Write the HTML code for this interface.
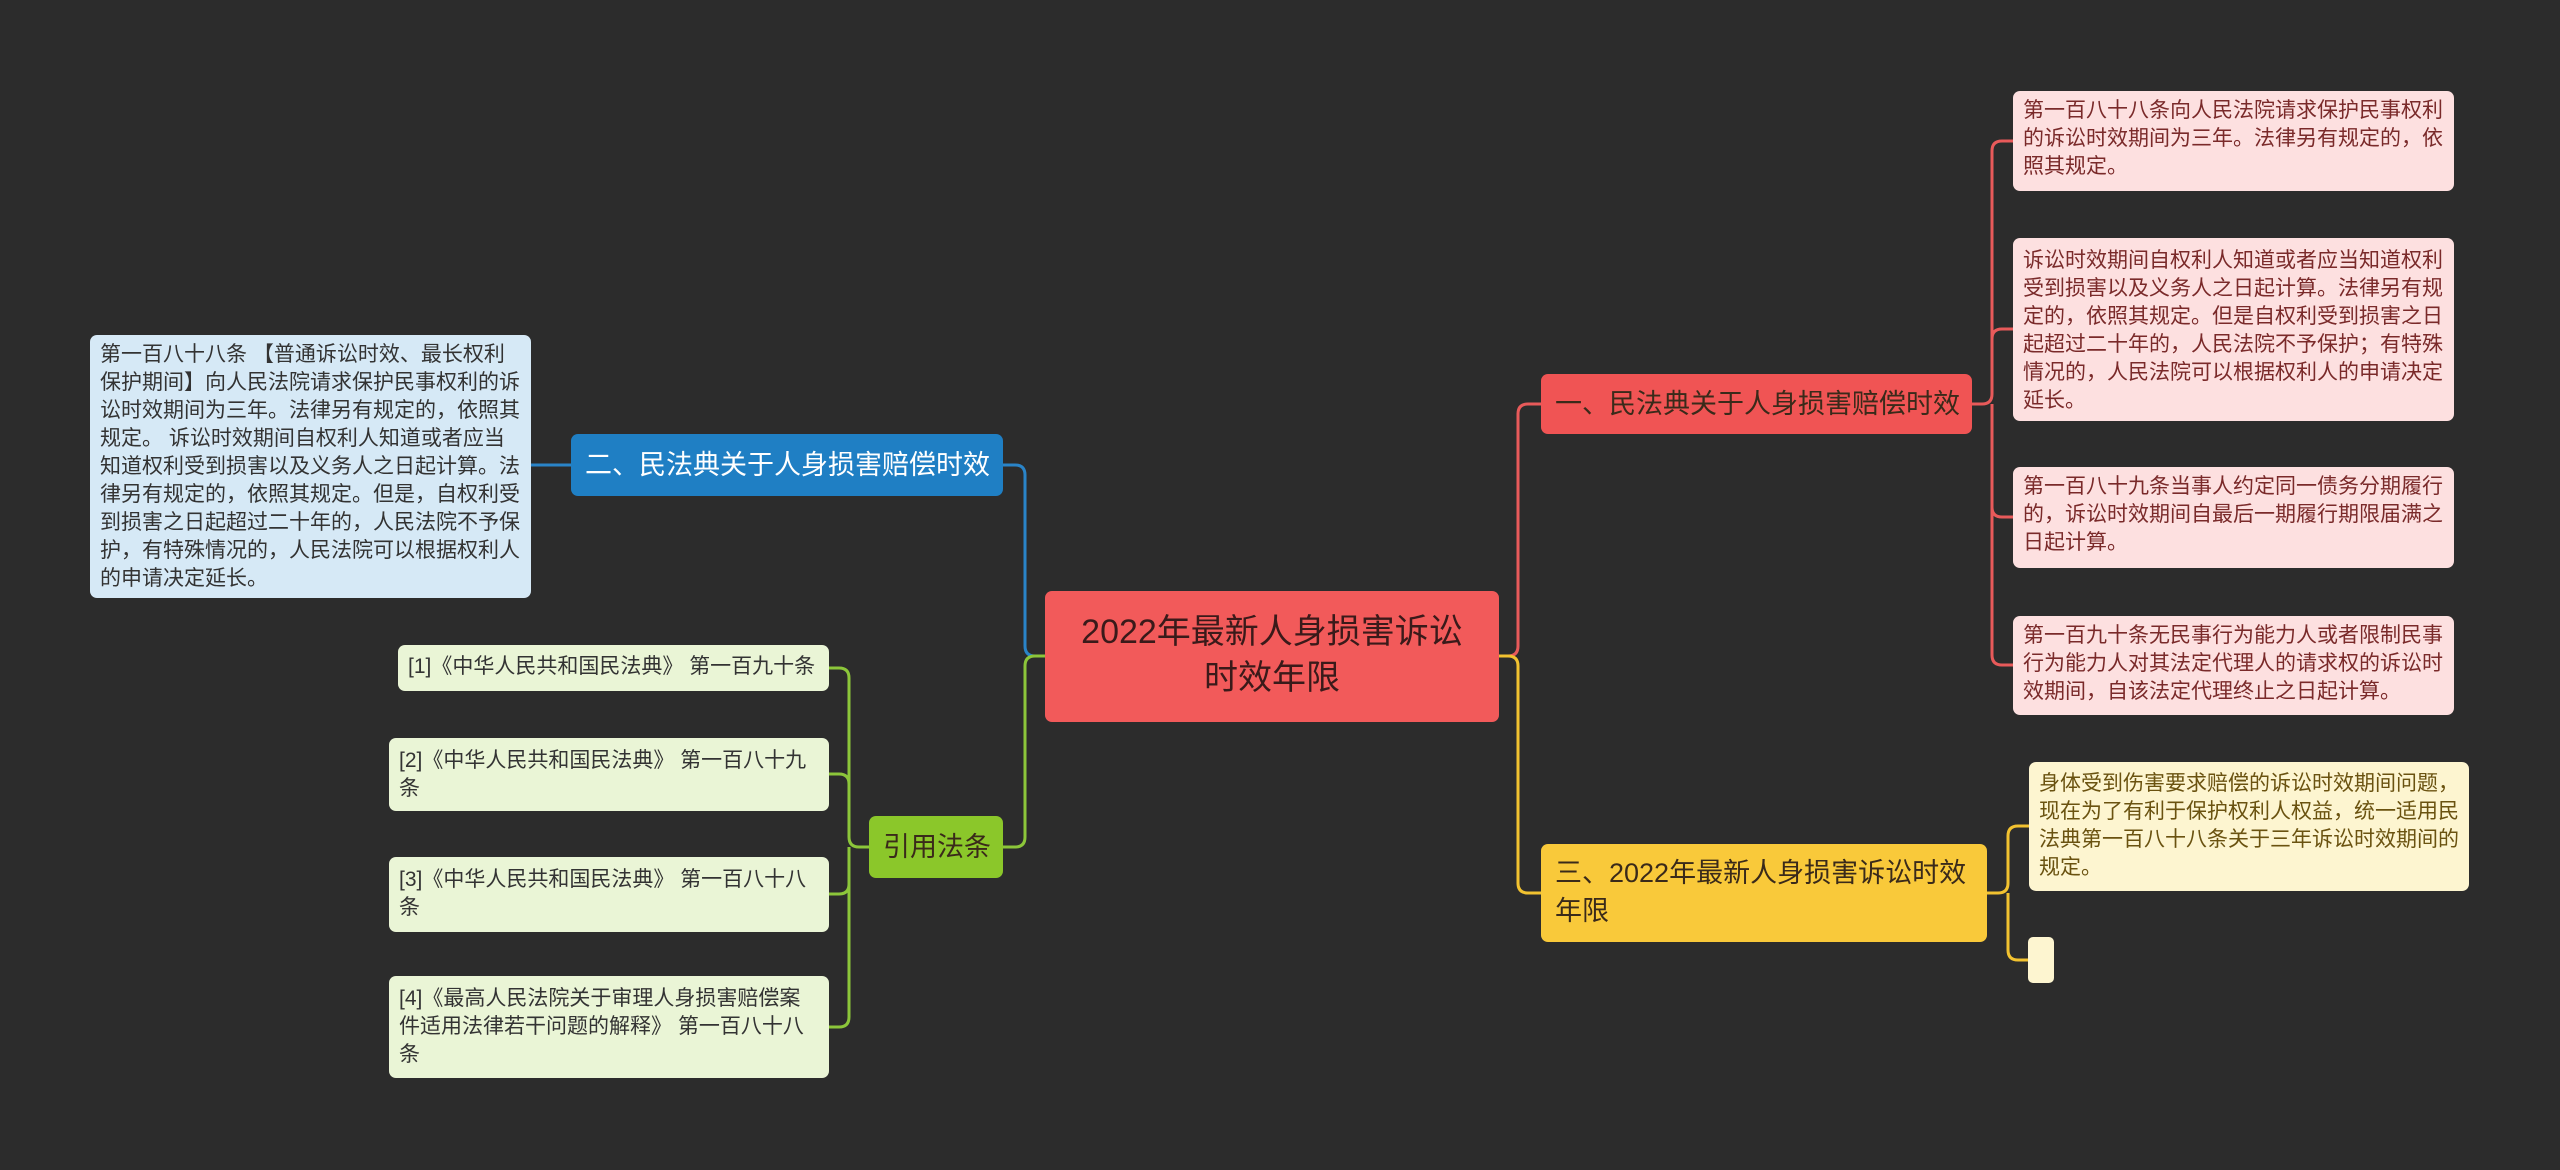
<!DOCTYPE html>
<html><head><meta charset="utf-8"><style>
body{margin:0;width:2560px;height:1170px;background:#2c2c2c;overflow:hidden;position:relative;font-family:"Liberation Sans","Noto Sans CJK SC",sans-serif}
.n{position:absolute;box-sizing:border-box;border-radius:7px}
.leaf{font-size:21px;line-height:28px;padding:6px 10px;color:#333}
.br{font-size:27px;line-height:38px;padding:10px 14px;color:#3a2a1a;white-space:nowrap}
svg{position:absolute;left:0;top:0}
</style></head><body>
<svg width="2560" height="1170" fill="none" stroke-width="3">
<g stroke="#e85a5a">
<path d="M1499 656 H1508 Q1518 656 1518 646 V414 Q1518 404 1528 404 H1541"/>
<path d="M1972 404 H1982 Q1992 404 1992 394 V151 Q1992 141 2002 141 H2013"/>
<path d="M1992 394 V339 Q1992 329 2002 329 H2013"/>
<path d="M1992 404 V507 Q1992 517 2002 517 H2013"/>
<path d="M1992 404 V655 Q1992 665 2002 665 H2013"/>
</g>
<g stroke="#f2c230">
<path d="M1499 656 H1508 Q1518 656 1518 666 V883 Q1518 893 1528 893 H1541"/>
<path d="M1987 893 H1998 Q2008 893 2008 883 V836 Q2008 826 2018 826 H2029"/>
<path d="M2008 893 V950 Q2008 960 2018 960 H2028"/>
</g>
<g stroke="#2a84c8">
<path d="M1045 656 H1035 Q1025 656 1025 646 V475 Q1025 465 1015 465 H1003"/>
<path d="M571 465 H531"/>
</g>
<g stroke="#8cc63a">
<path d="M1045 656 H1035 Q1025 656 1025 666 V837 Q1025 847 1015 847 H1003"/>
<path d="M869 847 H859 Q849 847 849 837 V678 Q849 668 839 668 H829"/>
<path d="M849 837 V784 Q849 774 839 774 H829"/>
<path d="M849 847 V884 Q849 894 839 894 H829"/>
<path d="M849 847 V1017 Q849 1027 839 1027 H829"/>
</g>
</svg>

<div class="n" style="left:1045px;top:591px;width:454px;height:131px;background:#f25a5a;color:#3a1a1a;font-size:34px;line-height:46px;text-align:center;padding-top:18px">2022年最新人身损害诉讼<br>时效年限</div>

<div class="n br" style="left:1541px;top:374px;width:431px;height:60px;background:#f05454;padding-top:11px">一、民法典关于人身损害赔偿时效</div>
<div class="n br" style="left:1541px;top:844px;width:446px;height:98px;background:#f9c93a;white-space:normal;padding-top:10px">三、2022年最新人身损害诉讼时效年限</div>
<div class="n br" style="left:571px;top:434px;width:432px;height:62px;background:#1f7fc4;color:#fff;padding-top:12px">二、民法典关于人身损害赔偿时效</div>
<div class="n br" style="left:869px;top:816px;width:134px;height:62px;background:#8bc72a;padding-top:12px">引用法条</div>

<div class="n leaf" style="left:90px;top:335px;width:441px;height:263px;background:#d6e9f6">第一百八十八条 【普通诉讼时效、最长权利保护期间】向人民法院请求保护民事权利的诉讼时效期间为三年。法律另有规定的，依照其规定。 诉讼时效期间自权利人知道或者应当知道权利受到损害以及义务人之日起计算。法律另有规定的，依照其规定。但是，自权利受到损害之日起超过二十年的，人民法院不予保护，有特殊情况的，人民法院可以根据权利人的申请决定延长。</div>

<div class="n leaf" style="left:398px;top:645px;width:431px;height:46px;background:#eaf5d6;padding-top:8px">[1]《中华人民共和国民法典》 第一百九十条</div>
<div class="n leaf" style="left:389px;top:738px;width:440px;height:73px;background:#eaf5d6;padding-top:9px">[2]《中华人民共和国民法典》 第一百八十九条</div>
<div class="n leaf" style="left:389px;top:857px;width:440px;height:75px;background:#eaf5d6;padding-top:9px">[3]《中华人民共和国民法典》 第一百八十八条</div>
<div class="n leaf" style="left:389px;top:976px;width:440px;height:102px;background:#eaf5d6;padding-top:9px">[4]《最高人民法院关于审理人身损害赔偿案件适用法律若干问题的解释》 第一百八十八条</div>

<div class="n leaf" style="left:2013px;top:91px;width:441px;height:100px;background:#fde0e0;color:#7a2a2a">第一百八十八条向人民法院请求保护民事权利的诉讼时效期间为三年。法律另有规定的，依照其规定。</div>
<div class="n leaf" style="left:2013px;top:238px;width:441px;height:183px;background:#fde0e0;color:#7a2a2a;padding-top:9px">诉讼时效期间自权利人知道或者应当知道权利受到损害以及义务人之日起计算。法律另有规定的，依照其规定。但是自权利受到损害之日起超过二十年的，人民法院不予保护；有特殊情况的，人民法院可以根据权利人的申请决定延长。</div>
<div class="n leaf" style="left:2013px;top:467px;width:441px;height:101px;background:#fde0e0;color:#7a2a2a">第一百八十九条当事人约定同一债务分期履行的，诉讼时效期间自最后一期履行期限届满之日起计算。</div>
<div class="n leaf" style="left:2013px;top:616px;width:441px;height:99px;background:#fde0e0;color:#7a2a2a">第一百九十条无民事行为能力人或者限制民事行为能力人对其法定代理人的请求权的诉讼时效期间，自该法定代理终止之日起计算。</div>

<div class="n leaf" style="left:2029px;top:762px;width:440px;height:129px;background:#fdf5d0;color:#6a5210;padding-top:8px">身体受到伤害要求赔偿的诉讼时效期间问题，现在为了有利于保护权利人权益，统一适用民法典第一百八十八条关于三年诉讼时效期间的规定。</div>
<div class="n" style="left:2028px;top:937px;width:26px;height:46px;background:#fdf5d0;border-radius:5px"></div>
</body></html>
